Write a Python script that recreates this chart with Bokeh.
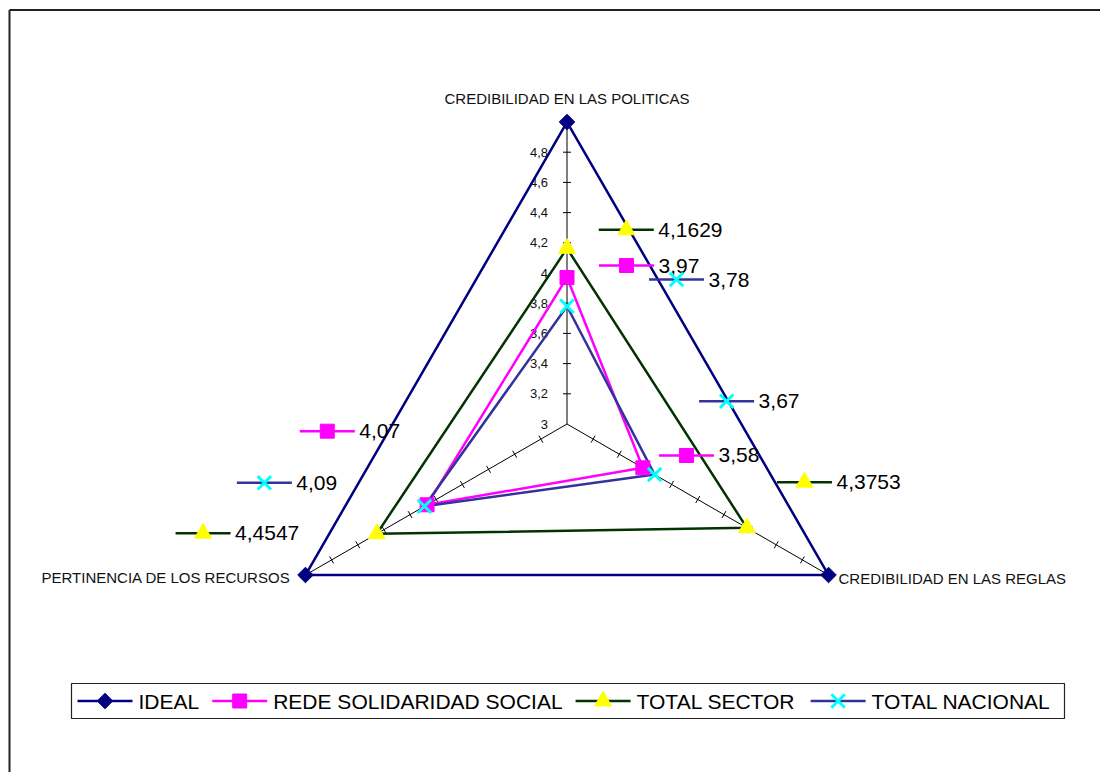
import math
from bokeh.plotting import figure
from bokeh.models import Range1d
from bokeh.core.properties import value
from bokeh.embed import file_html
from bokeh.resources import INLINE

# ---------------- data ----------------
AXES = ["CREDIBILIDAD EN LAS POLITICAS", "CREDIBILIDAD EN LAS REGLAS", "PERTINENCIA DE LOS RECURSOS"]
SERIES = ["IDEAL", "REDE SOLIDARIDAD SOCIAL", "TOTAL SECTOR", "TOTAL NACIONAL"]
IDEAL = [5.0, 5.0, 5.0]
REDE = [3.97, 3.58, 4.07]
SECTOR = [4.1629, 4.3753, 4.4547]
NACIONAL = [3.78, 3.67, 4.09]
TICK_VALUES = [3.0, 3.2, 3.4, 3.6, 3.8, 4.0, 4.2, 4.4, 4.6, 4.8]
TICK_LABELS = ["3", "3,2", "3,4", "3,6", "3,8", "4", "4,2", "4,4", "4,6", "4,8"]
R_MIN = 3.0

# ---------------- layout / style ----------------
W, H = 1100, 772          # figure size (px)
K = 151.0                 # px per scale unit
CX, CY = 566.5, 423.5     # radar centre inside the figure (px from top-left)
ANGLES = [90.0, -30.0, 210.0]
FONT = value("Liberation Sans")

STYLE = {
    "IDEAL": dict(line="#000080", marker="square", angle=math.pi / 4, size=11, fill="#000080", mline="#000080", mw=1),
    "REDE SOLIDARIDAD SOCIAL": dict(line="#FF00FF", marker="square", angle=0.0, size=14, fill="#FF00FF", mline="#FF00FF", mw=1),
    "TOTAL SECTOR": dict(line="#003300", marker="triangle", angle=0.0, size=17, fill="#FFFF00", mline="#FFFF00", mw=1),
    "TOTAL NACIONAL": dict(line="#333399", marker="x", angle=0.0, size=19, fill="#00FFFF", mline="#00FFFF", mw=3),
}
LINE_W = 2.5

# data-label key offsets from the data point, px (right, down), per axis
LABEL_OFFSETS = {
    "REDE SOLIDARIDAD SOCIAL": [(59.5, -12.0), (43.6, -12.3), (-99.8, -73.6)],
    "TOTAL SECTOR": [(59.3, -18.6), (57.6, -45.6), (-173.7, -0.6)],
    "TOTAL NACIONAL": [(109.5, -26.7), (72.0, -73.4), (-160.1, -23.5)],
}
KEY_HALF = 27.5
TEXT_GAP = 32

VALUES = {"IDEAL": IDEAL, "REDE SOLIDARIDAD SOCIAL": REDE, "TOTAL SECTOR": SECTOR, "TOTAL NACIONAL": NACIONAL}


def polar(v, ang_deg):
    u = v - R_MIN
    a = math.radians(ang_deg)
    return u * math.cos(a), u * math.sin(a)


def page2d(px, py):
    return (px - CX) / K, (CY - py) / K


p = figure(width=W, height=H, output_backend="svg", toolbar_location=None,
           x_axis_location=None, y_axis_location=None, min_border=0,
           x_range=Range1d(-CX / K, (W - CX) / K), y_range=Range1d(-(H - CY) / K, CY / K))
p.outline_line_color = None
p.background_fill_color = "white"
p.border_fill_color = "white"
p.xgrid.visible = False
p.ygrid.visible = False

# chart frame (top and left edges visible)
fx0, fy0 = page2d(9, 9.5)
fx1, fy1 = page2d(W + 10, H + 10)
p.segment([fx0, fx0], [fy0, fy0], [fx1, fx0], [fy0, fy1], line_color="#222222", line_width=2)

# spokes
for ang in ANGLES:
    x1, y1 = polar(IDEAL[0], ang)
    p.line([0, x1], [0, y1], line_color="black", line_width=1)
    a = math.radians(ang)
    nx, ny = -math.sin(a), math.cos(a)
    half = 4.0 / K
    xs0, ys0, xs1, ys1 = [], [], [], []
    for t in TICK_VALUES[1:]:
        tx, ty = polar(t, ang)
        xs0.append(tx - nx * half); ys0.append(ty - ny * half)
        xs1.append(tx + nx * half); ys1.append(ty + ny * half)
    p.segment(xs0, ys0, xs1, ys1, line_color="black", line_width=1)

# tick labels (top axis)
tx = [polar(t, ANGLES[0])[0] for t in TICK_VALUES]
ty = [polar(t, ANGLES[0])[1] for t in TICK_VALUES]
p.text(tx, ty, text=TICK_LABELS, text_font=FONT, text_font_size="13px", text_color="#111111",
       text_align="right", text_baseline="middle", x_offset=-19)

# category labels
cat_pos = [(0, -24, "center"), (10, 3, "left"), (-15, 2, "right")]
for name, ang, (dx, dy, al) in zip(AXES, ANGLES, cat_pos):
    vx, vy = polar(IDEAL[0], ang)
    p.text([vx], [vy], text=[name], text_font=FONT, text_font_size="15px", text_color="#111111",
           text_align=al, text_baseline="middle", x_offset=dx, y_offset=dy)

# series
for s in SERIES:
    st = STYLE[s]
    pts = [polar(v, a) for v, a in zip(VALUES[s], ANGLES)]
    xs = [q[0] for q in pts] + [pts[0][0]]
    ys = [q[1] for q in pts] + [pts[0][1]]
    p.line(xs, ys, line_color=st["line"], line_width=LINE_W, line_join="round")
for s in SERIES:
    st = STYLE[s]
    pts = [polar(v, a) for v, a in zip(VALUES[s], ANGLES)]
    p.scatter([q[0] for q in pts], [q[1] for q in pts], marker=st["marker"], size=st["size"],
              angle=st["angle"], fill_color=st["fill"], line_color=st["mline"], line_width=st["mw"])


def fmt(v):
    return ("%g" % v).replace(".", ",")


# data labels with legend keys
for s in ["TOTAL SECTOR", "REDE SOLIDARIDAD SOCIAL", "TOTAL NACIONAL"]:
    st = STYLE[s]
    for v, a, (ox, oy) in zip(VALUES[s], ANGLES, LABEL_OFFSETS[s]):
        x, y = polar(v, a)
        mx, my = x + ox / K, y - oy / K
        p.line([mx - KEY_HALF / K, mx + KEY_HALF / K], [my, my], line_color=st["line"], line_width=LINE_W)
        p.scatter([mx], [my], marker=st["marker"], size=st["size"], angle=st["angle"],
                  fill_color=st["fill"], line_color=st["mline"], line_width=st["mw"])
        p.text([mx], [my], text=[fmt(v)], text_font=FONT, text_font_size="21px", text_color="black",
               text_align="left", text_baseline="middle", x_offset=TEXT_GAP)

# legend (box with keys and texts)
ARIAL = {" ": 278, "A": 667, "B": 667, "C": 722, "D": 722, "E": 667, "I": 278, "L": 556, "N": 722,
         "O": 778, "R": 722, "S": 667, "T": 611, "P": 667, "U": 722}
LEG_FS = 21
LEG_LEFT, LEG_TOP, LEG_H = 71, 683, 35
PAD_L, PAD_R, KEY_W, STANDOFF, SPACING = 6, 12, 55, 6, 13


def tw(s):
    return sum(ARIAL.get(c, 600) for c in s) / 1000.0 * LEG_FS


xcur = LEG_LEFT + PAD_L
mid_y = LEG_TOP + LEG_H / 2
items = []
for s in SERIES:
    items.append((s, xcur))
    xcur += KEY_W + STANDOFF + tw(s) + SPACING
leg_right = xcur - SPACING + PAD_R
bx0, by0 = page2d(LEG_LEFT, LEG_TOP + LEG_H)
bx1, by1 = page2d(leg_right, LEG_TOP)
p.quad(left=[bx0], right=[bx1], bottom=[by0], top=[by1], fill_color="white", line_color="#222222", line_width=1.2)
for s, x0 in items:
    st = STYLE[s]
    lx0, ly = page2d(x0, mid_y)
    lx1, _ = page2d(x0 + KEY_W, mid_y)
    p.line([lx0, lx1], [ly, ly], line_color=st["line"], line_width=LINE_W)
    p.scatter([(lx0 + lx1) / 2], [ly], marker=st["marker"], size=st["size"],
              angle=st["angle"], fill_color=st["fill"], line_color=st["mline"], line_width=st["mw"])
    p.text([lx1], [ly], text=[s], text_font=FONT, text_font_size="%dpx" % LEG_FS, text_color="black",
           text_align="left", text_baseline="middle", x_offset=STANDOFF)

open("out.html", "w").write(file_html(p, INLINE))
